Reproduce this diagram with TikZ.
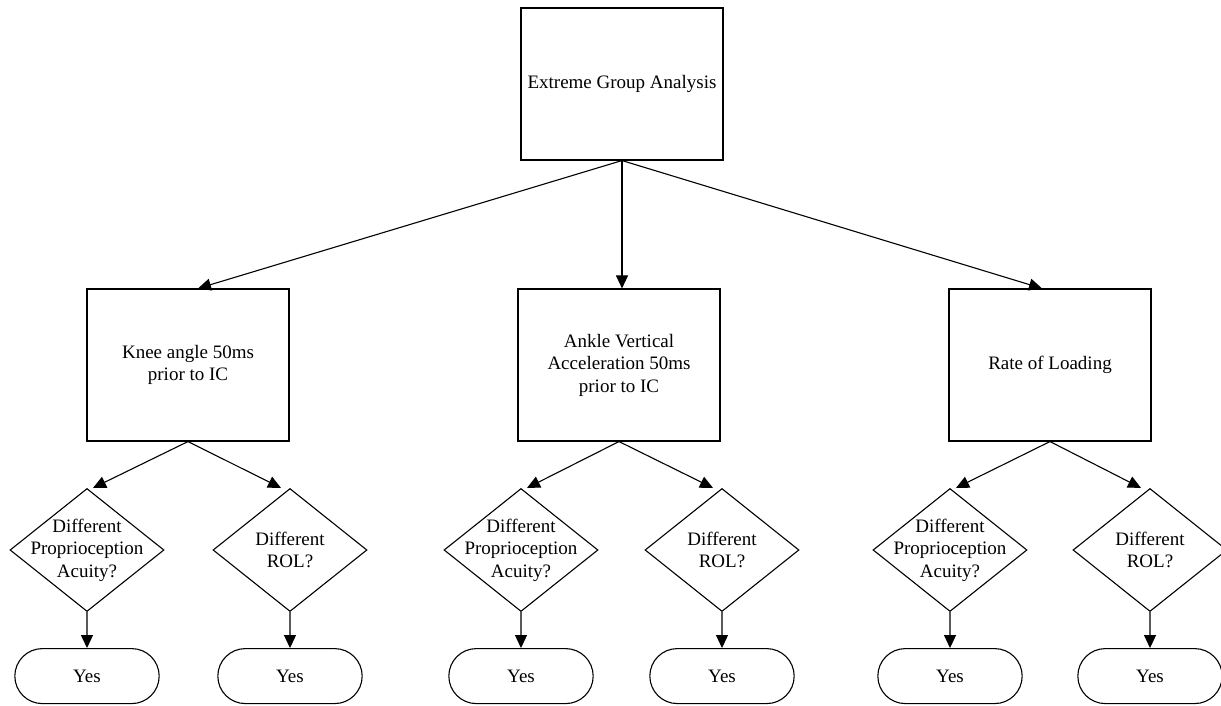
\documentclass[tikz,border=0pt]{standalone}
\usepackage{fontspec}
\setmainfont{Liberation Serif}
\usetikzlibrary{shapes.geometric, shapes.misc, arrows.meta, positioning}

\tikzset{
    box/.style={draw, rectangle, line width=1.1pt, minimum width=202pt, minimum height=152pt, align=center},
    decision/.style={draw, diamond, line width=1.1pt, minimum width=154pt, minimum height=123pt, inner sep=0pt},
    qtext/.style={label={[align=center, anchor=center]center:#1}},
    term/.style={draw, rounded rectangle, line width=1.1pt, minimum width=151pt, minimum height=55pt},
    arrow/.style={line width=1.1pt, -{Triangle[length=13pt, width=12pt]}}
}

\begin{document}
\begin{tikzpicture}[x=1pt, y=1pt, font=\fontsize{19pt}{22.5pt}\selectfont]
    \useasboundingbox (0,0) rectangle (1221,705);

    % Root
    \node[box] (ega) at (622,621) {Extreme Group Analysis};

    % Variables
    \node[box] (knee) at (188,340) {Knee angle 50ms\\prior to IC};
    \node[box] (ankle) at (619,340) {Ankle Vertical\\Acceleration 50ms\\prior to IC};
    \node[box] (rol) at (1050,340) {Rate of Loading};

    \draw[arrow] (ega.south) -- ([xshift=10pt]knee.north);
    \draw[arrow] (ega.south) -- (ega.south |- ankle.north);
    \draw[arrow] (ega.south) -- ([xshift=-8pt]rol.north);

    % Knee angle branch
    \node[decision, qtext={Different\\Proprioception\\Acuity?}] (knee-pa) at (87,155) {};
    \node[decision, qtext={Different\\ROL?}] (knee-rol) at (290,155) {};
    \node[term, below=36pt of knee-pa] (knee-pa-yes) {Yes};
    \node[term, below=36pt of knee-rol] (knee-rol-yes) {Yes};

    \draw[arrow] (knee.south) -- ([xshift=6pt]knee-pa.north);
    \draw[arrow] (knee.south) -- ([xshift=-9pt]knee-rol.north);
    \draw[arrow] (knee-pa) -- (knee-pa-yes);
    \draw[arrow] (knee-rol) -- (knee-rol-yes);

    % Ankle acceleration branch
    \node[decision, qtext={Different\\Proprioception\\Acuity?}] (ankle-pa) at (521,155) {};
    \node[decision, qtext={Different\\ROL?}] (ankle-rol) at (722,155) {};
    \node[term, below=36pt of ankle-pa] (ankle-pa-yes) {Yes};
    \node[term, below=36pt of ankle-rol] (ankle-rol-yes) {Yes};

    \draw[arrow] (ankle.south) -- ([xshift=6pt]ankle-pa.north);
    \draw[arrow] (ankle.south) -- ([xshift=-9pt]ankle-rol.north);
    \draw[arrow] (ankle-pa) -- (ankle-pa-yes);
    \draw[arrow] (ankle-rol) -- (ankle-rol-yes);

    % Rate of loading branch
    \node[decision, qtext={Different\\Proprioception\\Acuity?}] (rol-pa) at (950,155) {};
    \node[decision, qtext={Different\\ROL?}] (rol-rol) at (1150,155) {};
    \node[term, below=36pt of rol-pa] (rol-pa-yes) {Yes};
    \node[term, below=36pt of rol-rol] (rol-rol-yes) {Yes};

    \draw[arrow] (rol.south) -- ([xshift=6pt]rol-pa.north);
    \draw[arrow] (rol.south) -- ([xshift=-9pt]rol-rol.north);
    \draw[arrow] (rol-pa) -- (rol-pa-yes);
    \draw[arrow] (rol-rol) -- (rol-rol-yes);
\end{tikzpicture}
\end{document}
